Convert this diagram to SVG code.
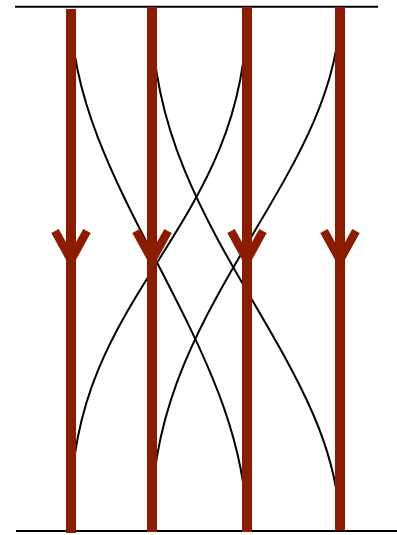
<svg xmlns="http://www.w3.org/2000/svg" width="397" height="535" viewBox="0 0 397 535">
<style>
.rule{stroke:#000;stroke-width:2;fill:none}
.curve{stroke:#000;stroke-width:2;fill:none}
.strand{stroke:#8c1c00;stroke-width:10;fill:none}
.head{stroke:#8c1c00;stroke-width:8.5;fill:none;stroke-linejoin:miter;stroke-linecap:butt}
</style>
<defs>
<path id="chev" d="M-16,-29 L0,0 L16,-29"/>
</defs>
<g id="rules">
<line class="rule" x1="15" y1="6.7" x2="378" y2="6.7"/>
<line class="rule" x1="16" y1="531" x2="397" y2="531"/>
</g>
<g id="connectors">
<path class="curve" d="M71,10 C71,185 247,345 247,531"/>
<path class="curve" d="M152,15 C152,230 340,360 340,531"/>
<path class="curve" d="M247,8 C247,230 71,290 71,508"/>
<path class="curve" d="M340,8 C340,176 152,305 152,515"/>
</g>
<g id="strand1"><line class="strand" x1="71" y1="9" x2="71" y2="533"/><use href="#chev" class="head" x="71" y="260"/></g>
<g id="strand2"><line class="strand" x1="152" y1="7" x2="152" y2="532"/><use href="#chev" class="head" x="152" y="260"/></g>
<g id="strand3"><line class="strand" x1="247" y1="7" x2="247" y2="532"/><use href="#chev" class="head" x="247" y="260"/></g>
<g id="strand4"><line class="strand" x1="340" y1="7" x2="340" y2="530.5"/><use href="#chev" class="head" x="340" y="260"/></g>
</svg>
